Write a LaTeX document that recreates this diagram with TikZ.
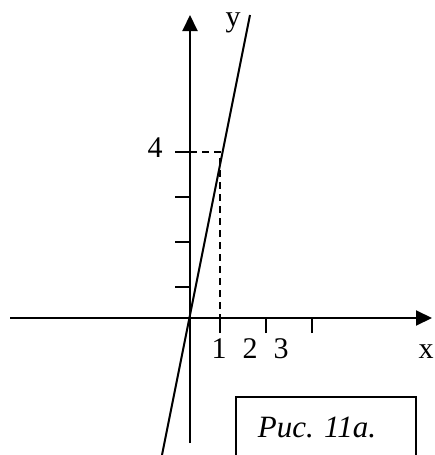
\documentclass[tikz,border=0pt]{standalone}
\usepackage{fontspec}
\setmainfont{Liberation Serif}
\usetikzlibrary{arrows.meta}
\begin{document}
\begin{tikzpicture}[x=1pt,y=-1pt,
  axis/.style={line width=2pt,-{Triangle[length=16pt,width=15pt]}},
  tick/.style={line width=1.8pt},
  dashline/.style={line width=1.6pt,dash pattern=on 7pt off 5pt},
  lbl/.style={inner sep=0pt,anchor=base,font=\fontsize{30}{31}\selectfont}]
\useasboundingbox (0,0) rectangle (435,455);
% axes
\coordinate (xs) at (10,318);
\coordinate (xe) at (432,318);
\coordinate (ys) at (190,443);
\coordinate (ye) at (190,15);
\coordinate (O) at (190,318);
\draw[axis] (xs) -- (xe);
\draw[axis] (ys) -- (ye);
% y ticks
\foreach \yy/\nm in {152/t4,197/t3,242/t2,287/t1}{
  \coordinate (\nm) at (175,\yy);
  \draw[tick] (\nm) -- ++(15,0);
}
% x ticks
\foreach \xx/\nm in {220/u1,266/u2,312/u3}{
  \coordinate (\nm) at (\xx,333);
  \draw[tick] (\nm) -- ++(0,-15);
}
% dashed lines
\coordinate (P) at (220,152);
\coordinate (Py) at (190,152);
\coordinate (Px) at (220,318);
\draw[dashline] (Py) -- (P) -- (Px);
% graph line
\coordinate (La) at (162,455);
\coordinate (Lb) at (250,15);
\draw[line width=2pt] (La) -- (Lb);
% labels
\node[lbl] (l4) at (155,157) {4};
\node[lbl] (l1) at (219,358) {1};
\node[lbl] (l2) at (250,358) {2};
\node[lbl] (l3) at (281,358) {3};
\node[lbl] (lx) at (426,358) {x};
\node[lbl] (ly) at (233,27) {y};
% caption box
\draw[line width=1.8pt] (236,460) -- (236,397) -- (416,397) -- (416,460);
\node[lbl,font=\fontsize{31}{32}\selectfont\itshape] (cap) at (317,437) {Рис. 11а.};
\end{tikzpicture}
\end{document}
